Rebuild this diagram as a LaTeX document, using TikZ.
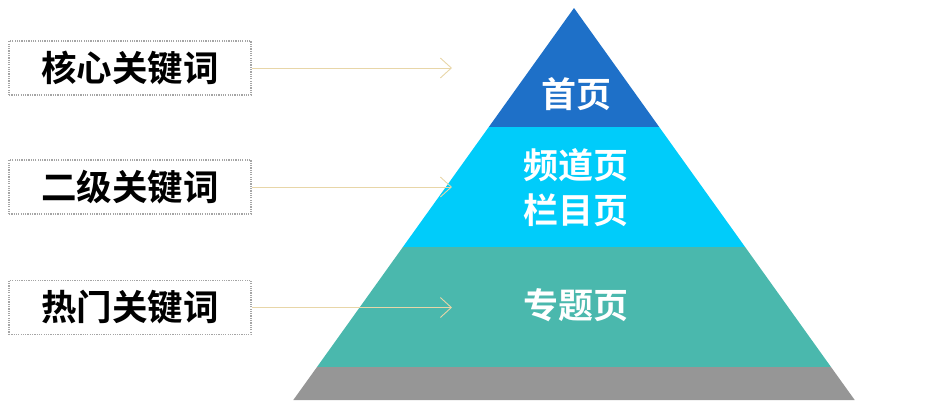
\documentclass[tikz,border=0pt]{standalone}
\usepackage{fontspec}
\newfontfamily\cjkb{Noto Sans CJK SC Bold}
\usetikzlibrary{arrows.meta}
\definecolor{tierA}{RGB}{30,112,200}
\definecolor{tierB}{RGB}{0,204,250}
\definecolor{tierC}{RGB}{74,184,173}
\definecolor{tierD}{RGB}{150,150,150}
\definecolor{arrowc}{RGB}{232,214,168}
\definecolor{dotc}{RGB}{165,165,165}
\tikzset{
  kwbox/.style={draw=dotc, line width=1.2pt, dash pattern=on 1.2pt off 1.1pt,
    minimum width=242pt, minimum height=54pt, inner sep=0pt,
    font=\cjkb\fontsize{35.5}{40}\selectfont, text=black},
  tierlabel/.style={font=\cjkb\fontsize{35}{45}\selectfont, text=white, align=center, inner sep=0pt},
  kwarrow/.style={draw=arrowc, line width=0.9pt, -{Straight Barb[length=11pt,width=20pt,line width=0.9pt]}},
}
\begin{document}
\begin{tikzpicture}[x=1pt,y=-1pt]
\useasboundingbox (0,0) rectangle (928,400);
% pyramid tiers (apex 574,8 ; half-width = 0.716*(y-8))
\fill[tierA] (574,8) -- (659.2,127) -- (488.8,127) -- cycle;
\fill[tierB] (488.8,127) -- (659.2,127) -- (745.1,247) -- (402.9,247) -- cycle;
\fill[tierC] (402.9,247) -- (745.1,247) -- (831.0,367) -- (317.0,367) -- cycle;
\fill[tierD] (317.0,367) -- (831.0,367) -- (854.7,400) -- (293.3,400) -- cycle;
% tier labels
\node[tierlabel] (home) at (576,94) {首页};
\node[tierlabel] (chan) at (576,188) {频道页\\栏目页};
\node[tierlabel] (topic) at (576,305) {专题页};
% keyword boxes
\node[kwbox] (k1) at (130,68) {核心关键词};
\node[kwbox] (k2) at (130,187) {二级关键词};
\node[kwbox] (k3) at (130,307.5) {热门关键词};
% arrow ends
\coordinate (e1) at (452,68);
\coordinate (e2) at (452,187);
\coordinate (e3) at (452,307.5);
\draw[kwarrow] (k1.east) -- (e1);
\draw[kwarrow] (k2.east) -- (e2);
\draw[kwarrow] (k3.east) -- (e3);
\end{tikzpicture}
\end{document}
